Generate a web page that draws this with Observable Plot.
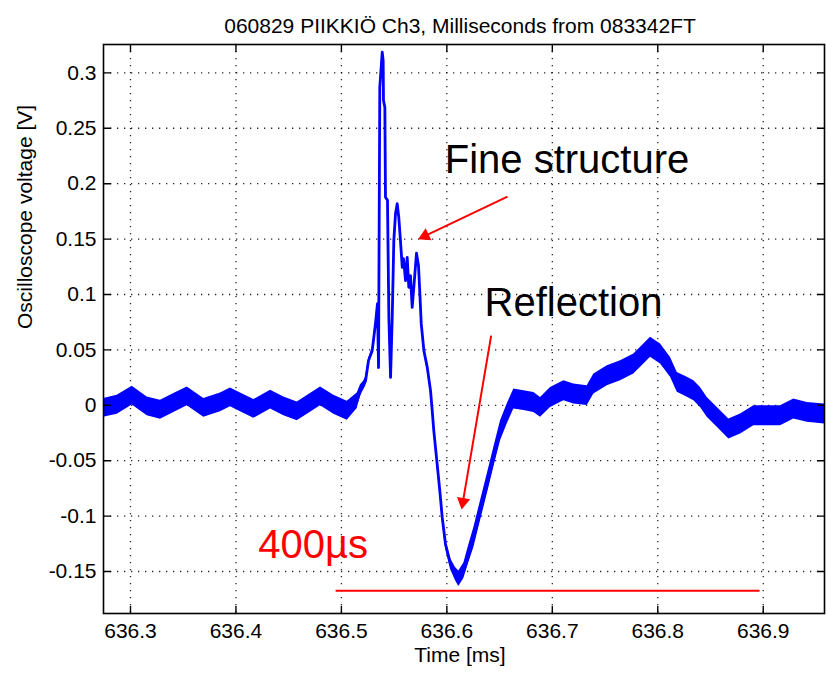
<!DOCTYPE html>
<html><head><meta charset="utf-8">
<script src="https://cdn.jsdelivr.net/npm/d3@7"></script>
<script src="https://cdn.jsdelivr.net/npm/@observablehq/plot@0.6"></script>
<style>
html,body{margin:0;padding:0;background:#fff;}
#chart svg{display:block;background:#fff;}
</style></head><body><div id="chart"></div>
<script>
const title = "060829 PIIKKIÖ Ch3, Milliseconds from 083342FT";
const xLabel = "Time [ms]";
const yLabel = "Oscilloscope voltage [V]";
const xTicks = [636.3, 636.4, 636.5, 636.6, 636.7, 636.8, 636.9];
const yTicks = [-0.15, -0.1, -0.05, 0, 0.05, 0.1, 0.15, 0.2, 0.25, 0.3];
const xDomain = [636.2744, 636.9581];
const yDomain = [-0.1879, 0.3256];

// waveform centre line (ms, V) and half-width of the noise band (V)
const time = [
  636.2744, 636.2874, 636.3016, 636.3158, 636.3284, 636.3411, 636.3538, 636.3695, 636.3853, 636.3948,
  636.4043, 636.4169, 636.4328, 636.4454, 636.4581, 636.4802, 636.4928, 636.5055, 636.5150, 636.5180,
  636.5210, 636.5229, 636.5257, 636.5292, 636.5323, 636.5342, 636.5352, 636.5364, 636.5375, 636.5387,
  636.5396, 636.5399, 636.5412, 636.5418, 636.5437, 636.5450, 636.5466, 636.5482, 636.5497, 636.5513,
  636.5529, 636.5544, 636.5560, 636.5577, 636.5589, 636.5608, 636.5624, 636.5639, 636.5655, 636.5671,
  636.5688, 636.5712, 636.5731, 636.5744, 636.5757, 636.5782, 636.5814, 636.5845, 636.5861, 636.5876,
  636.5892, 636.5908, 636.5933, 636.5956, 636.5987, 636.6035, 636.6082, 636.6113, 636.6161, 636.6208,
  636.6256, 636.6319, 636.6383, 636.6445, 636.6509, 636.6572, 636.6635, 636.6730, 636.6825, 636.6888,
  636.6983, 636.7109, 636.7204, 636.7331, 636.7394, 636.7521, 636.7647, 636.7773, 636.7868, 636.7931,
  636.8026, 636.8121, 636.8185, 636.8280, 636.8342, 636.8405, 636.8469, 636.8564, 636.8674, 636.8785,
  636.8911, 636.9038, 636.9164, 636.9290, 636.9417, 636.9581
];
const voltage = [
  -0.0024, 0.0005, 0.0087, -0.0010, -0.0040, 0.0021, 0.0080, -0.0024, 0.0026, 0.0071,
  0.0026, -0.0033, 0.0051, -0.0010, -0.0055, 0.0080, 0.0005, -0.0049, 0.0042, 0.0132,
  0.0177, 0.0222, 0.0403, 0.0493, 0.0737, 0.0917, 0.0340, 0.2870, 0.3020, 0.3186,
  0.3110, 0.2750, 0.2690, 0.1877, 0.1850, 0.0794, 0.0252, 0.0794, 0.1486, 0.1730,
  0.1820, 0.1696, 0.1486, 0.1245, 0.1324, 0.1125, 0.1335, 0.1065, 0.1170, 0.0884,
  0.1080, 0.1372, 0.1260, 0.1008, 0.0737, 0.0493, 0.0342, 0.0132, -0.0049, -0.0229,
  -0.0380, -0.0530, -0.0771, -0.1012, -0.1252, -0.1433, -0.1523, -0.1566, -0.1493, -0.1340,
  -0.1193, -0.0952, -0.0711, -0.0470, -0.0229, -0.0079, 0.0057, 0.0042, 0.0026, -0.0019,
  0.0071, 0.0132, 0.0102, 0.0087, 0.0192, 0.0267, 0.0312, 0.0373, 0.0463, 0.0523,
  0.0463, 0.0342, 0.0207, 0.0162, 0.0132, 0.0071, -0.0019, -0.0109, -0.0214, -0.0169,
  -0.0094, -0.0094, -0.0094, -0.0033, -0.0064, -0.0079
];
const noise = [
  0.0085, 0.0085, 0.0085, 0.0085, 0.0085, 0.0085, 0.0085, 0.0085, 0.0085, 0.0085,
  0.0085, 0.0085, 0.0085, 0.0085, 0.0085, 0.0085, 0.0085, 0.0085, 0.0070, 0.0050,
  0.0040, 0.0030, 0.0020, 0.0020, 0.0010, 0, 0, 0, 0, 0,
  0, 0, 0, 0, 0, 0, 0, 0, 0, 0,
  0, 0, 0, 0, 0, 0, 0, 0, 0, 0,
  0, 0, 0, 0, 0, 0.0010, 0.0020, 0.0020, 0.0020, 0.0020,
  0.0020, 0.0020, 0.0020, 0.0030, 0.0040, 0.0050, 0.0060, 0.0070, 0.0070, 0.0080,
  0.0090, 0.0090, 0.0090, 0.0090, 0.0090, 0.0090, 0.0090, 0.0090, 0.0090, 0.0090,
  0.0090, 0.0090, 0.0090, 0.0090, 0.0090, 0.0090, 0.0090, 0.0090, 0.0090, 0.0090,
  0.0090, 0.0090, 0.0090, 0.0090, 0.0090, 0.0090, 0.0090, 0.0090, 0.0090, 0.0090,
  0.0090, 0.0090, 0.0090, 0.0090, 0.0090, 0.0090
];

// annotations (data coordinates)
const noteText = ["Fine structure", "Reflection", "400µs"];
const noteX = [636.7139, 636.7201, 636.4731];
const noteY = [0.2208, 0.0917, -0.1259];
const noteColor = ["#000000", "#000000", "#ff0000"];
const arrowX1 = [636.6575, 636.6420];
const arrowY1 = [0.1883, 0.0628];
const arrowX2 = [636.5760, 636.6146];
const arrowY2 = [0.1513, -0.0906];
const spanX = [636.495, 636.897];
const spanY = -0.1674;

const FONT = "'Liberation Sans', Arial, Helvetica, sans-serif";
const signal = time.map((t, i) => ({t, v: voltage[i], lo: voltage[i] - noise[i], hi: voltage[i] + noise[i]}));
const notes = noteText.map((s, i) => ({s, x: noteX[i], y: noteY[i], c: noteColor[i]}));
const span = [{y: spanY, x1: spanX[0], x2: spanX[1]}];
const HEAD_R = 5;
const tickShape = {draw(context, l) { context.moveTo(0, 0); context.lineTo(0, -l); }};

function build(arrows, heads) {
  const grid = {stroke: "#000", strokeOpacity: 0.85, strokeDasharray: "1.3,5.7", strokeWidth: 1.3};
  const fmt = d => String(d);
  const tk = {shape: tickShape, anchor: "start", length: 7, stroke: "#000", strokeWidth: 1.4};
  return Plot.plot({
    width: 826, height: 673,
    marginLeft: 103, marginRight: 2, marginTop: 44, marginBottom: 60,
    style: {fontFamily: FONT, fontSize: "21px", background: "#fff", color: "#000"},
    x: {domain: xDomain},
    y: {domain: yDomain},
    marks: [
      Plot.gridX(xTicks, grid),
      Plot.gridY(yTicks, grid),
      Plot.areaY(signal, {x: "t", y1: "lo", y2: "hi", fill: "#0000ff", clip: true}),
      Plot.line(signal, {x: "t", y: "v", stroke: "#0000ff", strokeWidth: 2.8, clip: true}),
      Plot.ruleY(span, {y: "y", x1: "x1", x2: "x2", stroke: "#ff0000", strokeWidth: 2}),
      Plot.link(arrows, {x1: "x1", y1: "y1", x2: "x2", y2: "y2", stroke: "#ff0000", strokeWidth: 2}),
      Plot.dot(heads, {x: "x", y: "y", symbol: "triangle", r: HEAD_R, fill: "#ff0000", stroke: "none", rotate: "angle"}),
      Plot.text(notes, {x: "x", y: "y", text: "s", fill: "c", fontSize: 40, fontFamily: FONT}),
      Plot.frame({stroke: "#000", strokeWidth: 1.6}),
      // inward ticks on all four sides
      Plot.vector(xTicks, {x: d => d, frameAnchor: "bottom", rotate: 0, ...tk}),
      Plot.vector(xTicks, {x: d => d, frameAnchor: "top", rotate: 180, ...tk}),
      Plot.vector(yTicks, {y: d => d, frameAnchor: "left", rotate: 90, ...tk}),
      Plot.vector(yTicks, {y: d => d, frameAnchor: "right", rotate: -90, ...tk}),
      Plot.axisX(xTicks, {anchor: "bottom", tickSize: 0, tickPadding: 10, fontSize: 21, tickFormat: fmt, label: null}),
      Plot.axisY(yTicks, {anchor: "left", tickSize: 0, tickPadding: 7, fontSize: 21, tickFormat: fmt, label: null}),
      Plot.text([title], {frameAnchor: "top", dy: -26, dx: -4, fontSize: 21, fill: "#000"}),
      Plot.text([xLabel], {frameAnchor: "bottom", dy: 48, dx: -4, fontSize: 21, fill: "#000"}),
      Plot.text([yLabel], {frameAnchor: "left", dx: -78, rotate: -90, fontSize: 21, fill: "#000"})
    ]
  });
}

// first pass: obtain the scales, then place filled arrowheads
const probe = build([], []);
const sx = probe.scale("x"), sy = probe.scale("y");
const apex = 2 * Math.sqrt((Math.PI * HEAD_R * HEAD_R) / (3 * Math.sqrt(3)));
const heads = [], arrows = [];
for (let i = 0; i < arrowX1.length; i++) {
  const X1 = sx.apply(arrowX1[i]), Y1 = sy.apply(arrowY1[i]);
  const X2 = sx.apply(arrowX2[i]), Y2 = sy.apply(arrowY2[i]);
  const dx = X2 - X1, dy = Y2 - Y1, L = Math.hypot(dx, dy);
  const ux = dx / L, uy = dy / L;
  const cx = X2 - ux * apex * 0.5, cy = Y2 - uy * apex * 0.5;
  heads.push({x: sx.invert(cx), y: sy.invert(cy), angle: Math.atan2(dx, -dy) * 180 / Math.PI});
  arrows.push({x1: arrowX1[i], y1: arrowY1[i], x2: sx.invert(cx), y2: sy.invert(cy)});
}
document.getElementById("chart").append(build(arrows, heads));
</script>
</body></html>
